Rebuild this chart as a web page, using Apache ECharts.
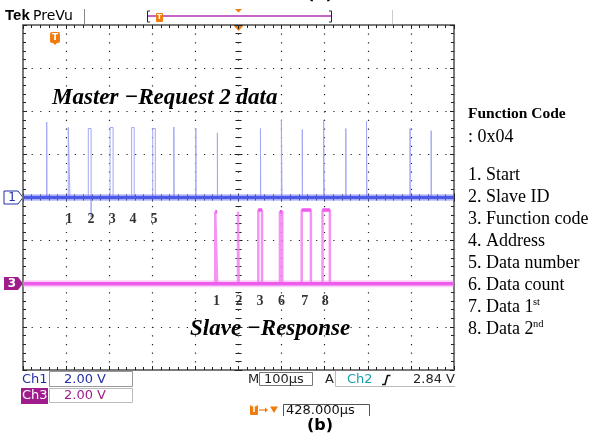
<!DOCTYPE html>
<html>
<head>
<meta charset="utf-8">
<script src="https://cdn.jsdelivr.net/npm/echarts@6/dist/echarts.min.js"></script>
<style>
  html, body { margin: 0; padding: 0; background: #fff; }
  #chart { width: 595px; height: 438px; }
</style>
</head>
<body>
<div id="chart"></div>
<script>
// time in µs from the screen centre, level in V as shown (2 V/div)
const ch1Base = 0;
const ch3Base = -4;

// [start, end, top, undershoot]
const ch1Pulses = [
  [-445, -444.5, 3.5],
  [-395, -391, 3.25],
  [-348.5, -342, 3.2, -0.9],
  [-298, -291, 3.25],
  [-248, -242, 3.25],
  [-199, -193, 3.2],
  [-150, -149.5, 3.27],
  [-99, -98.5, 3.2],
  [-49, -48.5, 3.0],
  [51, 51.5, 3.2],
  [99.5, 101, 3.6],
  [148, 148.5, 3.15],
  [197.5, 199, 3.6],
  [249, 249.5, 3.2],
  [297, 298, 3.55],
  [398, 398.5, 3.2],
  [447, 447.5, 3.1]
];

const ch3Pulses = [
  [-54, -49.5, -0.66],
  [-1, 0.5, -0.66],
  [46, 54.5, -0.58],
  [96, 101.6, -0.66],
  [146.6, 168, -0.58],
  [195, 212, -0.58]
];

const ch1Labels = ["1", "2", "3", "4", "5"];
const ch1LabelTimes = [-393, -342, -293, -245, -196];
const ch1LabelLevel = -1.0;

const ch3Labels = ["1", "2", "3", "6", "7", "8"];
const ch3LabelTimes = [-51, 1, 50, 100, 154, 201];
const ch3LabelLevel = -4.84;

const legendItems = [
  "1. Start",
  "2. Slave ID",
  "3. Function code",
  "4. Address",
  "5. Data number",
  "6. Data count",
  "7. Data 1",
  "8. Data 2"
];
const legendSup = { 6: "st", 7: "nd" };

const blue = "#2230a8";
const purple = "#a01c8c";
const orange = "#f07c10";

const buildTrace = (pulses, base) => {
  const pts = [[-500, base]];
  pulses.forEach((p) => {
    pts.push([p[0], base], [p[0], p[2]], [p[1], p[2]]);
    if (p[3] !== undefined) pts.push([p[1], p[3]]);
    pts.push([p[1], base]);
  });
  pts.push([500, base]);
  return pts;
};

const buildTops = (pulses) => {
  const pts = [];
  pulses.forEach((p) => {
    pts.push([p[0], p[2]], [p[1], p[2]], [p[1], "-"]);
  });
  return pts;
};

const tick = { show: true, length: 4, lineStyle: { color: "#222" } };
const minor = { show: true, splitNumber: 5, length: 3, lineStyle: { color: "#222" } };
const dots = { show: true, lineStyle: { type: [1.2, 7.42], color: "#222", width: 1.2 } };

const makeAxis = (position, opts) => ({
  type: "value",
  position: position,
  offset: opts.offset || 0,
  axisLine: {
    show: opts.line !== false,
    onZero: false,
    lineStyle: { color: "#7a7a7a", width: 2 },
  },
  axisTick: Object.assign({}, tick, { inside: opts.inside }),
  minorTick: minor,
  axisLabel: { show: false },
  splitLine: opts.split ? dots : { show: false },
});

const xAxes = [
  makeAxis("bottom", { inside: true, split: true }),
  makeAxis("top", { inside: true }),
  makeAxis("bottom", { inside: true, offset: -172.5, line: false }),
  makeAxis("bottom", { inside: false, offset: -172.5, line: false }),
].map((a) => Object.assign(a, { min: -500, max: 500, interval: 100 }));

const yAxes = [
  makeAxis("left", { inside: true, split: true }),
  makeAxis("right", { inside: true }),
  makeAxis("left", { inside: true, offset: -215.5, line: false }),
  makeAxis("left", { inside: false, offset: -215.5, line: false }),
].map((a) => Object.assign(a, { min: -8, max: 8, interval: 2 }));

const flatLine = (base) => [[-500, base], [500, base]];

const lineSeries = (data, color, width, z) => ({
  type: "line",
  data: data,
  showSymbol: false,
  connectNulls: false,
  lineStyle: { color: color, width: width },
  z: z,
  silent: true,
});

const labelSeries = (names, times, level) => ({
  type: "scatter",
  data: names.map((n, i) => ({ value: [times[i], level], name: n })),
  symbolSize: 1,
  itemStyle: { color: "transparent" },
  label: {
    show: true,
    position: "inside",
    formatter: (p) => p.name,
    color: "#000",
    fontFamily: "Liberation Serif",
    fontWeight: "bold",
    fontSize: 14,
  },
  z: 10,
});

const txt = (x, y, text, font, fill, align) => ({
  type: "text",
  x: x,
  y: y,
  style: {
    text: text,
    font: font,
    fill: fill || "#000",
    align: align || "left",
    verticalAlign: "middle",
  },
  z: 100,
});

const tekFont = "13px 'DejaVu Sans'";
const listFont = "18px 'Liberation Serif'";
const graphics = [
  // top status line
  txt(5, 16, "Tek", "bold 15px 'Liberation Sans'"),
  txt(33, 16, "PreVu", "14px 'DejaVu Sans'"),
  { type: "line", shape: { x1: 84.5, y1: 9, x2: 84.5, y2: 24 }, style: { stroke: "#888", lineWidth: 1 } },
  { type: "line", shape: { x1: 148, y1: 16, x2: 331, y2: 16 }, style: { stroke: "#b030b0", lineWidth: 1.5 } },
  { type: "polyline", shape: { points: [[150, 11], [147.5, 11], [147.5, 22], [150, 22]] }, style: { stroke: "#222", lineWidth: 1 } },
  { type: "polyline", shape: { points: [[329, 11], [331.5, 11], [331.5, 22], [329, 22]] }, style: { stroke: "#222", lineWidth: 1 } },
  { type: "rect", shape: { x: 156, y: 13, width: 7, height: 9, r: 1 }, style: { fill: orange } },
  txt(159.5, 17.5, "T", "bold 7px 'DejaVu Sans'", "#fff", "center"),
  { type: "polygon", shape: { points: [[235, 9], [242, 9], [238.5, 12.5]] }, style: { fill: orange } },
  { type: "line", shape: { x1: 392.5, y1: 10, x2: 392.5, y2: 24 }, style: { stroke: "#ccc", lineWidth: 1 } },
  txt(320, -5, "(a)", "bold 16px 'DejaVu Sans'", "#000", "center"),

  // trigger marks inside the graticule
  { type: "rect", shape: { x: 50, y: 32, width: 10, height: 11, r: 2 }, style: { fill: orange } },
  { type: "polygon", shape: { points: [[52, 42], [58, 42], [55, 45]] }, style: { fill: orange } },
  txt(55, 37.5, "T", "bold 9px 'DejaVu Sans'", "#fff", "center"),
  { type: "polygon", shape: { points: [[233, 25], [244, 25], [238.5, 31]] }, style: { fill: orange } },

  // channel markers
  { type: "polygon", shape: { points: [[4, 191], [18, 191], [23, 197.5], [18, 204], [4, 204]] }, style: { fill: "#fff", stroke: blue, lineWidth: 1 } },
  txt(12, 197.5, "1", "12px 'DejaVu Sans'", blue, "center"),
  { type: "polygon", shape: { points: [[4, 277], [18, 277], [23, 283.5], [18, 290], [4, 290]] }, style: { fill: purple } },
  txt(12, 283.5, "3", "bold 12px 'DejaVu Sans'", "#fff", "center"),

  // annotations
  txt(52, 98, "Master \u2212Request 2 data", "italic bold 23px 'Liberation Serif'"),
  txt(190, 329, "Slave \u2212Response", "italic bold 23px 'Liberation Serif'"),

  // bottom status
  txt(22, 380, "Ch1", tekFont, blue),
  { type: "rect", shape: { x: 49.5, y: 371.5, width: 83, height: 15 }, style: { fill: "none", stroke: "#999", lineWidth: 1 } },
  txt(64, 379.5, "2.00 V", tekFont, blue),
  { type: "rect", shape: { x: 21, y: 388, width: 27, height: 16 }, style: { fill: purple } },
  txt(22, 396, "Ch3", tekFont, "#fff"),
  { type: "rect", shape: { x: 49.5, y: 388.5, width: 83, height: 14 }, style: { fill: "none", stroke: "#bbb", lineWidth: 1 } },
  txt(64, 396, "2.00 V", tekFont, purple),
  txt(248, 380, "M", tekFont, "#222"),
  { type: "rect", shape: { x: 259.5, y: 372.5, width: 53, height: 13 }, style: { fill: "none", stroke: "#777", lineWidth: 1 } },
  txt(264, 379.5, "100\u00b5s", tekFont, "#222"),
  txt(325, 380, "A", tekFont, "#222"),
  { type: "polyline", shape: { points: [[335.5, 371], [335.5, 386.5], [455, 386.5]] }, style: { stroke: "#bbb", lineWidth: 1 } },
  txt(347, 380, "Ch2", tekFont, "#1aa0a8"),
  { type: "polyline", shape: { points: [[382, 384.5], [385, 384.5], [387.5, 375.5], [390.5, 375.5]] }, style: { stroke: "#111", lineWidth: 1.6 } },
  txt(455, 380, "2.84 V", tekFont, "#222", "right"),

  { type: "rect", shape: { x: 250, y: 405, width: 8, height: 10, r: 1 }, style: { fill: orange } },
  txt(254, 410, "T", "bold 8px 'DejaVu Sans'", "#fff", "center"),
  { type: "line", shape: { x1: 259, y1: 410, x2: 267, y2: 410 }, style: { stroke: orange, lineWidth: 1.2 } },
  { type: "polygon", shape: { points: [[265, 407.5], [268, 410], [265, 412.5]] }, style: { fill: orange } },
  { type: "polygon", shape: { points: [[270, 406.5], [278, 406.5], [274, 413]] }, style: { fill: orange } },
  { type: "polyline", shape: { points: [[283.5, 416], [283.5, 404.5], [369.5, 404.5], [369.5, 416]] }, style: { stroke: "#555", lineWidth: 1 } },
  txt(286, 411, "428.000\u00b5s", tekFont, "#111"),
  txt(320, 426, "(b)", "bold 16px 'DejaVu Sans'", "#000", "center"),

  // function code legend
  txt(468, 114, "Function Code", "bold 15.5px 'Liberation Serif'"),
  txt(468, 137, ": 0x04", listFont),
];

legendItems.forEach((item, i) => {
  const y = 175.5 + i * 21.9;
  graphics.push(txt(468, y, item, listFont));
  if (legendSup[i]) {
    graphics.push(txt(533, y - 5, legendSup[i], "10.5px 'Liberation Serif'"));
  }
});

const chart = echarts.init(document.getElementById("chart"));

const option = {
  animation: false,
  backgroundColor: "#fff",
  grid: { left: 23, top: 25, width: 431, height: 345, containLabel: false },
  xAxis: xAxes,
  yAxis: yAxes,
  graphic: graphics,
  series: [
    lineSeries(buildTrace(ch3Pulses, ch3Base), "rgba(242,130,238,0.85)", 2.5, 3),
    lineSeries(buildTops(ch3Pulses), "#ee5eee", 3.5, 4),
    lineSeries(flatLine(ch3Base), "rgba(245,140,240,0.4)", 7, 4),
    lineSeries(flatLine(ch3Base), "#ee5cee", 3.5, 5),
    lineSeries(buildTrace(ch1Pulses, ch1Base), "#a2a8f6", 1, 3),
    lineSeries(flatLine(ch1Base), "rgba(120,130,245,0.4)", 7, 4),
    lineSeries(flatLine(ch1Base), "#4d5ae8", 3.5, 5),
    labelSeries(ch1Labels, ch1LabelTimes, ch1LabelLevel),
    labelSeries(ch3Labels, ch3LabelTimes, ch3LabelLevel),
  ],
};

chart.setOption(option);

window.addEventListener("resize", () => {
  chart.resize();
});
</script>
</body>
</html>
